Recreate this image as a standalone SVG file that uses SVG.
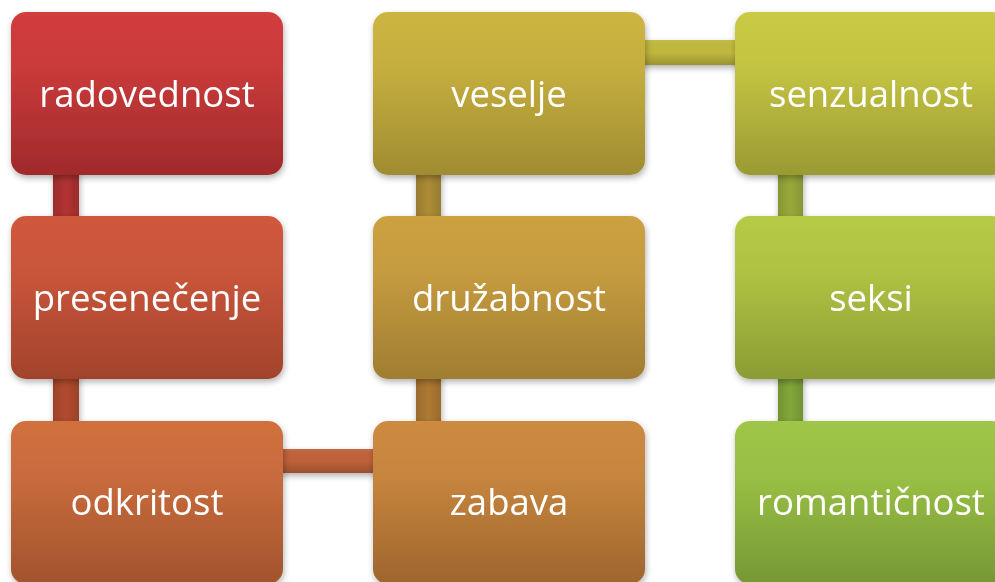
<svg xmlns="http://www.w3.org/2000/svg" width="995" height="582" viewBox="0 0 995 582">
<defs>
<filter id="sh" x="-10%" y="-10%" width="120%" height="125%">
<feDropShadow dx="1" dy="3" stdDeviation="3" flood-color="#000" flood-opacity="0.3"/>
</filter>
<linearGradient id="g1" x1="0" y1="0" x2="0" y2="1"><stop offset="0" stop-color="#D23C3E"/><stop offset="0.35" stop-color="#C93A3A"/><stop offset="1" stop-color="#A02A2B"/></linearGradient>
<linearGradient id="g2" x1="0" y1="0" x2="0" y2="1"><stop offset="0" stop-color="#D0583C"/><stop offset="0.35" stop-color="#C8553A"/><stop offset="1" stop-color="#A2432C"/></linearGradient>
<linearGradient id="g3" x1="0" y1="0" x2="0" y2="1"><stop offset="0" stop-color="#D0703E"/><stop offset="0.35" stop-color="#C86B3C"/><stop offset="1" stop-color="#A2532D"/></linearGradient>
<linearGradient id="g4" x1="0" y1="0" x2="0" y2="1"><stop offset="0" stop-color="#CD8A40"/><stop offset="0.35" stop-color="#C6853E"/><stop offset="1" stop-color="#9E652D"/></linearGradient>
<linearGradient id="g5" x1="0" y1="0" x2="0" y2="1"><stop offset="0" stop-color="#CCA141"/><stop offset="0.35" stop-color="#C59B3F"/><stop offset="1" stop-color="#A07D31"/></linearGradient>
<linearGradient id="g6" x1="0" y1="0" x2="0" y2="1"><stop offset="0" stop-color="#CCB540"/><stop offset="0.35" stop-color="#C5AE3E"/><stop offset="1" stop-color="#9F8C31"/></linearGradient>
<linearGradient id="g7" x1="0" y1="0" x2="0" y2="1"><stop offset="0" stop-color="#CACA44"/><stop offset="0.35" stop-color="#C3C342"/><stop offset="1" stop-color="#9A9A33"/></linearGradient>
<linearGradient id="g8" x1="0" y1="0" x2="0" y2="1"><stop offset="0" stop-color="#B7CA45"/><stop offset="0.35" stop-color="#AFC243"/><stop offset="1" stop-color="#8B9C34"/></linearGradient>
<linearGradient id="g9" x1="0" y1="0" x2="0" y2="1"><stop offset="0" stop-color="#9FC646"/><stop offset="0.35" stop-color="#98BF44"/><stop offset="1" stop-color="#779735"/></linearGradient>
<linearGradient id="cv" x1="0" y1="0" x2="1" y2="0"><stop offset="0" stop-color="#000" stop-opacity="0.12"/><stop offset="0.5" stop-color="#000" stop-opacity="0"/><stop offset="1" stop-color="#000" stop-opacity="0.12"/></linearGradient>
<linearGradient id="ch" x1="0" y1="0" x2="0" y2="1"><stop offset="0" stop-color="#fff" stop-opacity="0.05"/><stop offset="0.5" stop-color="#000" stop-opacity="0"/><stop offset="1" stop-color="#000" stop-opacity="0.2"/></linearGradient>
</defs>
<style>
.lbl{font-family:"Open Sans","Noto Sans","DejaVu Sans",sans-serif;font-size:36.5px;fill:#fff;text-anchor:middle;dominant-baseline:central}
.box{filter:url(#sh)}
</style>
<rect width="995" height="582" fill="#fff"/>
<g id="connectors" filter="url(#sh)">
<rect x="53" y="170" width="26" height="52" fill="#B23232"/>
<rect x="53" y="170" width="26" height="52" fill="url(#cv)"/>
<rect x="53" y="374" width="26" height="52" fill="#B24B2F"/>
<rect x="53" y="374" width="26" height="52" fill="url(#cv)"/>
<rect x="278" y="449" width="100" height="24" fill="#C0623A"/>
<rect x="278" y="449" width="100" height="24" fill="url(#ch)"/>
<rect x="416" y="374" width="25" height="52" fill="#AE7A33"/>
<rect x="416" y="374" width="25" height="52" fill="url(#cv)"/>
<rect x="416" y="170" width="25" height="52" fill="#AC8C36"/>
<rect x="416" y="170" width="25" height="52" fill="url(#cv)"/>
<rect x="640" y="40" width="100" height="25" fill="#C0B83E"/>
<rect x="640" y="40" width="100" height="25" fill="url(#ch)"/>
<rect x="778" y="170" width="25" height="52" fill="#99AA3A"/>
<rect x="778" y="170" width="25" height="52" fill="url(#cv)"/>
<rect x="778" y="374" width="25" height="52" fill="#82A73A"/>
<rect x="778" y="374" width="25" height="52" fill="url(#cv)"/>
</g>
<g id="n1" class="box"><rect x="11" y="12" width="272" height="163" rx="15" fill="url(#g1)"/><text class="lbl" x="147" y="93">radovednost</text></g>
<g id="n2" class="box"><rect x="11" y="216" width="272" height="163" rx="15" fill="url(#g2)"/><text class="lbl" x="147" y="297">presenečenje</text></g>
<g id="n3" class="box"><rect x="11" y="421" width="272" height="163" rx="15" fill="url(#g3)"/><text class="lbl" x="147" y="501">odkritost</text></g>
<g id="n4" class="box"><rect x="373" y="421" width="272" height="163" rx="15" fill="url(#g4)"/><text class="lbl" x="509" y="501">zabava</text></g>
<g id="n5" class="box"><rect x="373" y="216" width="272" height="163" rx="15" fill="url(#g5)"/><text class="lbl" x="509" y="297">družabnost</text></g>
<g id="n6" class="box"><rect x="373" y="12" width="272" height="163" rx="15" fill="url(#g6)"/><text class="lbl" x="509" y="93">veselje</text></g>
<g id="n7" class="box"><rect x="735" y="12" width="272" height="163" rx="15" fill="url(#g7)"/><text class="lbl" x="871" y="93">senzualnost</text></g>
<g id="n8" class="box"><rect x="735" y="216" width="272" height="163" rx="15" fill="url(#g8)"/><text class="lbl" x="871" y="297">seksi</text></g>
<g id="n9" class="box"><rect x="735" y="421" width="272" height="163" rx="15" fill="url(#g9)"/><text class="lbl" x="871" y="501">romantičnost</text></g>
</svg>
